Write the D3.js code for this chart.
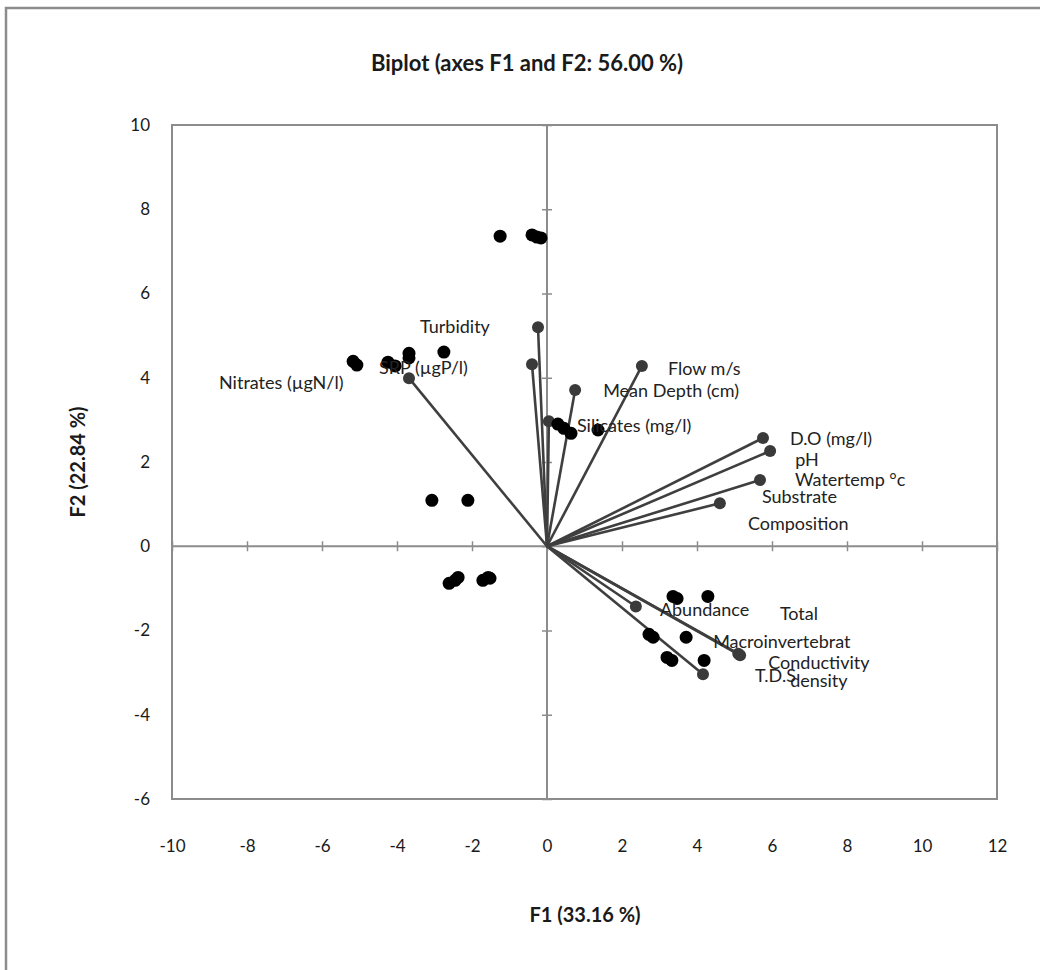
<!DOCTYPE html>
<html>
<head>
<meta charset="utf-8">
<script src="https://cdn.jsdelivr.net/npm/d3@7/dist/d3.min.js"></script>
<style>
  html, body { margin: 0; padding: 0; background: #fff; }
  svg { display: block; font-family: Lato, "Open Sans", sans-serif; }
</style>
</head>
<body>
<svg id="chart" width="1040" height="970"></svg>
<script>
// Variable loadings (F1, F2)
const varNames = ["Turbidity", "SRP (µgP/l)", "Nitrates (µgN/l)", "Flow m/s", "Mean Depth (cm)",
  "Silicates (mg/l)", "D.O (mg/l)", "pH", "Watertemp °c", "Substrate Composition",
  "Total Abundance", "Macroinvertebrat density", "Conductivity", "T.D.S"];
const varF1 = [-0.24, -0.40, -3.68, 2.53, 0.75, 0.05, 5.76, 5.95, 5.68, 4.61, 2.37, 5.15, 5.10, 4.16];
const varF2 = [5.20, 4.32, 3.99, 4.28, 3.71, 2.97, 2.57, 2.26, 1.57, 1.02, -1.43, -2.59, -2.55, -3.04];

// Observation scores (F1, F2)
const obsF1 = [-1.25, -0.40, -0.27, -0.16,
  -5.17, -5.07, -4.24, -4.05, -3.68, -3.68, -2.75,
  -3.07, -2.11,
  -2.61, -2.45, -2.37, -1.71, -1.57, -1.52,
  0.29, 0.45, 0.64, 1.36,
  3.36, 3.47, 4.29, 2.72, 2.83, 3.71, 3.20, 3.33, 4.19];
const obsF2 = [7.36, 7.39, 7.34, 7.32,
  4.39, 4.30, 4.37, 4.28, 4.58, 4.47, 4.61,
  1.09, 1.09,
  -0.88, -0.81, -0.74, -0.81, -0.74, -0.76,
  2.90, 2.80, 2.68, 2.76,
  -1.19, -1.24, -1.19, -2.09, -2.16, -2.16, -2.64, -2.71, -2.71];

const xTicks = [-10, -8, -6, -4, -2, 0, 2, 4, 6, 8, 10, 12];
const yTicks = [-6, -4, -2, 0, 2, 4, 6, 8, 10];

const svg = d3.select("#chart");
const plot = { left: 172, top: 125, right: 997, bottom: 799 };
const x = d3.scaleLinear().domain([-10, 12]).range([plot.left, plot.right]);
const y = d3.scaleLinear().domain([-6, 10]).range([plot.bottom, plot.top]);
const grey = "#8c8c8c";
const ink = "#1a1a1a";

// outer chart frame
svg.append("path").attr("d", "M6,975 L6,8 L1045,8")
  .attr("fill", "none").attr("stroke", grey).attr("stroke-width", 2.5);

// title
svg.append("text").attr("x", 527).attr("y", 71).attr("text-anchor", "middle")
  .attr("font-size", 22).attr("font-weight", "bold").attr("fill", ink)
  .text("Biplot (axes F1 and F2: 56.00 %)");

// plot area border
svg.append("rect").attr("x", plot.left).attr("y", plot.top)
  .attr("width", plot.right - plot.left).attr("height", plot.bottom - plot.top)
  .attr("fill", "none").attr("stroke", grey).attr("stroke-width", 2);

// zero axes crossing the plot, with ticks on both sides
const xAxis = d3.axisBottom(x).tickValues(xTicks).tickSizeInner(10).tickSizeOuter(0).tickFormat("");
const gx = svg.append("g").attr("transform", `translate(0,${y(0) - 5})`).call(xAxis);
gx.select(".domain").remove();
gx.selectAll(".tick line").attr("stroke", grey).attr("stroke-width", 1.5);
svg.append("line").attr("x1", plot.left).attr("x2", plot.right).attr("y1", y(0)).attr("y2", y(0))
  .attr("stroke", grey).attr("stroke-width", 2);

const yAxis = d3.axisLeft(y).tickValues(yTicks).tickSizeInner(10).tickSizeOuter(0).tickFormat("");
const gy = svg.append("g").attr("transform", `translate(${x(0) + 5},0)`).call(yAxis);
gy.select(".domain").remove();
gy.selectAll(".tick line").attr("stroke", grey).attr("stroke-width", 1.5);
svg.append("line").attr("x1", x(0)).attr("x2", x(0)).attr("y1", plot.top).attr("y2", plot.bottom)
  .attr("stroke", grey).attr("stroke-width", 2);

// tick labels outside the plot (plain hyphen minus)
const fmt = d => String(d);
const xl = d3.axisBottom(x).tickValues(xTicks).tickSize(0).tickPadding(0).tickFormat(fmt);
const gxl = svg.append("g").attr("transform", `translate(0,${plot.bottom + 41})`).call(xl);
gxl.select(".domain").remove();
gxl.selectAll("text").attr("font-size", 17).attr("fill", ink).attr("font-family", "Lato, sans-serif");

const yl = d3.axisLeft(y).tickValues(yTicks).tickSize(0).tickPadding(0).tickFormat(fmt);
const gyl = svg.append("g").attr("transform", `translate(${plot.left - 22},0)`).call(yl);
gyl.select(".domain").remove();
gyl.selectAll("text").attr("font-size", 17).attr("fill", ink).attr("font-family", "Lato, sans-serif");

// axis titles
svg.append("text").attr("x", 585).attr("y", 922).attr("text-anchor", "middle")
  .attr("font-size", 20).attr("font-weight", "bold").attr("fill", ink).text("F1 (33.16 %)");
svg.append("text").attr("transform", "translate(85,462) rotate(-90)").attr("text-anchor", "middle")
  .attr("font-size", 20).attr("font-weight", "bold").attr("fill", ink).text("F2 (22.84 %)");

// variable vectors
const vars = varNames.map((n, i) => ({ name: n, f1: varF1[i], f2: varF2[i] }));
const vg = svg.append("g");
vg.selectAll("line").data(vars).join("line")
  .attr("x1", x(0)).attr("y1", y(0))
  .attr("x2", d => x(d.f1)).attr("y2", d => y(d.f2))
  .attr("stroke", "#3f3f3f").attr("stroke-width", 2.6);
vg.selectAll("circle").data(vars).join("circle")
  .attr("cx", d => x(d.f1)).attr("cy", d => y(d.f2)).attr("r", 6)
  .attr("fill", "#3a3a3a");

// observations
const obs = obsF1.map((v, i) => ({ f1: v, f2: obsF2[i] }));
svg.append("g").selectAll("circle").data(obs).join("circle")
  .attr("cx", d => x(d.f1)).attr("cy", d => y(d.f2)).attr("r", 6.5)
  .attr("fill", "#000");

// variable labels: text lines placed relative to each vector tip
const labelLayout = {
  "Turbidity": [[-118, 6, "Turbidity"]],
  "SRP (µgP/l)": [[-153, 10, "SRP (µgP/l)"]],
  "Nitrates (µgN/l)": [[-190, 11, "Nitrates (µgN/l)"]],
  "Flow m/s": [[26, 9, "Flow m/s"]],
  "Mean Depth (cm)": [[28, 7, "Mean Depth (cm)"]],
  "Silicates (mg/l)": [[28, 11, "Silicates (mg/l)"]],
  "D.O (mg/l)": [[27, 7, "D.O (mg/l)"]],
  "pH": [[25, 15, "pH"]],
  "Watertemp °c": [[35, 6, "Watertemp °c"]],
  "Substrate Composition": [[42, 0, "Substrate"], [28, 27, "Composition"]],
  "Total Abundance": [[24, 10, "Abundance"], [144, 14, "Total"]],
  "Macroinvertebrat density": [[-27, -7, "Macroinvertebrat"], [50, 32, "density"]],
  "Conductivity": [[30, 15, "Conductivity"]],
  "T.D.S": [[52, 8, "T.D.S"]]
};
const lg = svg.append("g");
vars.forEach(d => {
  labelLayout[d.name].forEach(([dx, dy, t]) => {
    lg.append("text").attr("x", x(d.f1) + dx).attr("y", y(d.f2) + dy)
      .attr("font-size", 18).attr("fill", "#222").text(t);
  });
});
</script>
</body>
</html>
